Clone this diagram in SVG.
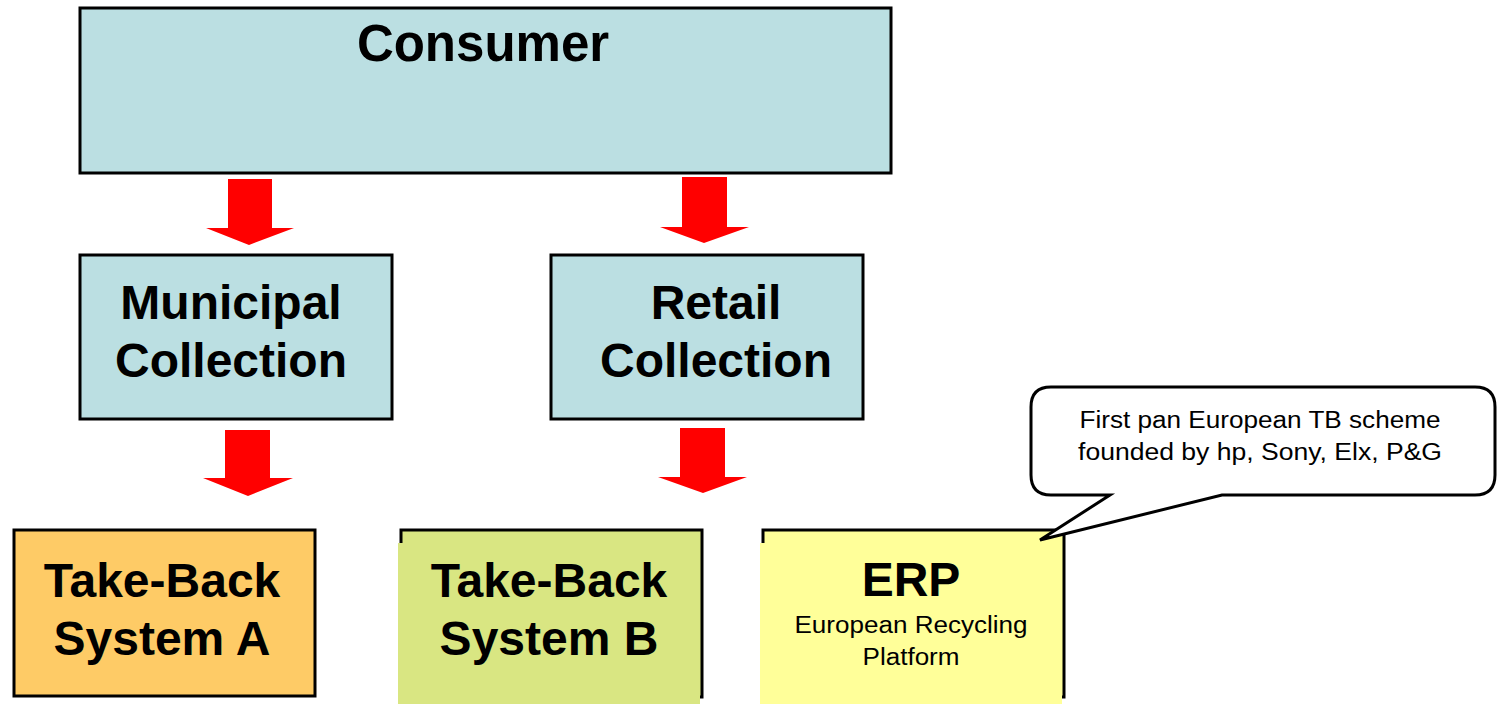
<svg xmlns="http://www.w3.org/2000/svg" width="1501" height="704" viewBox="0 0 1501 704">
<style>
.box{stroke:#000;stroke-width:3}
.big{font-family:"Liberation Sans",Arial,sans-serif;font-weight:bold;font-size:48px;fill:#000;text-anchor:middle}
.title{font-size:51px}
.small{font-family:"Liberation Sans",Arial,sans-serif;font-size:23px;fill:#000;text-anchor:middle}
.arrow{fill:#FF0000}
</style>
<rect width="1501" height="704" fill="#fff"/>
<g id="connectors">
<polygon class="arrow" points="228,179 272,179 272,228 294,228 249,245 206,228 228,228"/>
<polygon class="arrow" points="682,177 727,177 727,227 749,227 704,243 660,227 682,227"/>
<polygon class="arrow" points="225,430 270,430 270,478 293,478 248,496 203,478 225,478"/>
<polygon class="arrow" points="680,428 725,428 725,477 747,477 703,493 658,477 680,477"/>
</g>
<g id="consumer">
<rect class="box" x="80" y="8" width="811" height="165" fill="#BBDFE2"/>
<text class="big title" x="483" y="61">Consumer</text>
</g>
<g id="municipal">
<rect class="box" x="80" y="255" width="312" height="164" fill="#BBDFE2"/>
<text class="big" x="231" y="319">Municipal</text>
<text class="big" x="231" y="377">Collection</text>
</g>
<g id="retail">
<rect class="box" x="551" y="255" width="312" height="164" fill="#BBDFE2"/>
<text class="big" x="716" y="319">Retail</text>
<text class="big" x="716" y="377">Collection</text>
</g>
<g id="takebackA">
<rect class="box" x="14" y="530" width="301" height="166" fill="#FECB66"/>
<text class="big" x="162" y="597">Take-Back</text>
<text class="big" x="162" y="655">System A</text>
</g>
<g id="takebackB">
<rect class="box" x="401" y="530" width="301" height="167" fill="#D9E682"/>
<rect x="398" y="543" width="302" height="161" fill="#D9E682"/>
<text class="big" x="549" y="597">Take-Back</text>
<text class="big" x="549" y="655">System B</text>
</g>
<g id="erp">
<rect class="box" x="763" y="530" width="301" height="167" fill="#FFFF99"/>
<rect x="760" y="543" width="302" height="161" fill="#FFFF99"/>
<text class="big" x="911" y="596">ERP</text>
<text class="small" x="911" y="633" textLength="233" lengthAdjust="spacingAndGlyphs">European Recycling</text>
<text class="small" x="911" y="665" textLength="97" lengthAdjust="spacingAndGlyphs">Platform</text>
</g>
<g id="callout">
<path d="M1051,387 H1475 Q1495,387 1495,407 V475 Q1495,495 1475,495 H1222 L1040,540 L1110,495 H1051 Q1031,495 1031,475 V407 Q1031,387 1051,387 Z" fill="#fff" stroke="#000" stroke-width="3" stroke-linejoin="miter"/>
<text class="small" x="1260" y="428" textLength="361" lengthAdjust="spacingAndGlyphs">First pan European TB scheme</text>
<text class="small" x="1260" y="460" textLength="364" lengthAdjust="spacingAndGlyphs">founded by hp, Sony, Elx, P&amp;G</text>
</g>
</svg>
